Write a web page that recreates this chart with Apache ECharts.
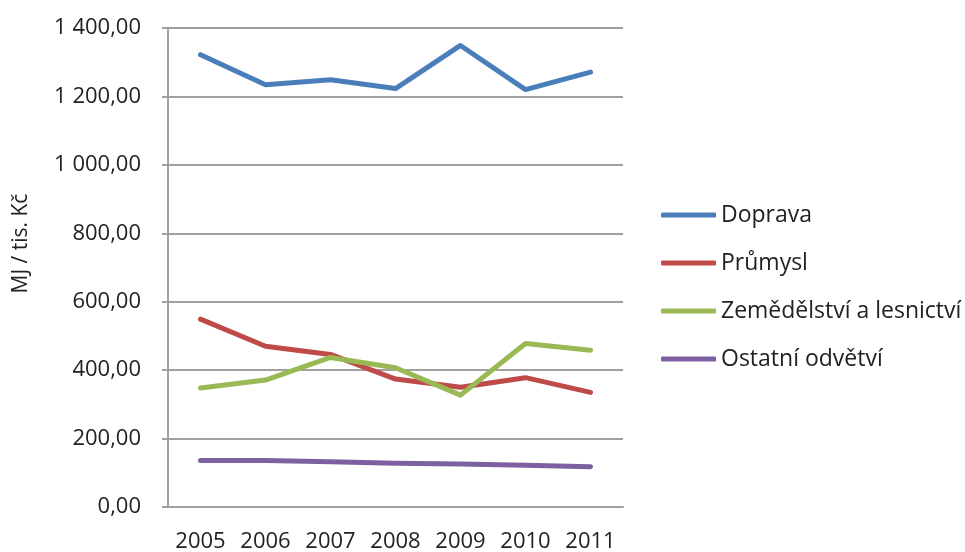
<!DOCTYPE html>
<html>
	<head>
		<meta charset="utf-8">
		<title></title>
		<script src="https://cdn.jsdelivr.net/npm/echarts@6/dist/echarts.min.js"></script>
	</head>
	<body style="margin: 0; overflow: hidden;">
		<div id="main" style="width: 965px; height: 552px;"></div>
		<script type="text/javascript">
			var years = ['2005', '2006', '2007', '2008', '2009', '2010', '2011'];
			var doprava = [1322, 1234, 1249, 1223, 1349, 1220, 1271];
			var prumysl = [549, 470, 446, 374, 350, 378, 335];
			var zemedelstvi = [348, 371, 437, 407, 327, 478, 458];
			var ostatni = [136, 136, 132, 128, 126, 122, 118];

			var myChart = echarts.init(document.getElementById('main'));

			function line(name, data, color) {
				return {
					name: name,
					type: 'line',
					data: data,
					symbol: 'none',
					lineStyle: { width: 5, color: color, cap: 'round', join: 'round' },
					itemStyle: { color: color },
					animation: false
				};
			}

			var option = {
				textStyle: { fontFamily: 'Open Sans' },
				grid: { left: 168, right: 342, top: 28, bottom: 45, outerBoundsMode: 'none' },
				legend: {
					orient: 'vertical',
					left: 656,
					top: 198,
					icon: 'roundRect',
					itemWidth: 55,
					itemHeight: 5,
					itemGap: 24,
					textStyle: { fontSize: 23, lineHeight: 24, color: '#222' },
					data: ['Doprava', 'Průmysl', 'Zemědělství a lesnictví', 'Ostatní odvětví']
				},
				xAxis: {
					type: 'category',
					data: years,
					boundaryGap: true,
					axisLine: { lineStyle: { color: '#a0a0a0', width: 2 } },
					axisTick: { length: 6, lineStyle: { color: '#a0a0a0', width: 2 } },
					axisLabel: { fontSize: 22, color: '#222', margin: 24, interval: 0 }
				},
				yAxis: {
					type: 'value',
					min: 0,
					max: 1400,
					interval: 200,
					name: 'MJ / tis. Kč',
					nameLocation: 'middle',
					nameGap: 136,
					nameTextStyle: { fontSize: 21, color: '#222', padding: [0, 0, 0, 48] },
					axisLine: { show: true, lineStyle: { color: '#a0a0a0', width: 2 } },
					axisTick: { show: true, length: 6, lineStyle: { color: '#a0a0a0', width: 2 } },
					splitLine: { lineStyle: { color: '#a0a0a0', width: 2 } },
					axisLabel: {
						fontSize: 22,
						color: '#222',
						margin: 27,
						formatter: function (v) {
							var s = v.toFixed(2).replace('.', ',');
							var parts = s.split(',');
							parts[0] = parts[0].replace(/\B(?=(\d{3})+(?!\d))/g, ' ');
							return parts.join(',');
						}
					}
				},
				series: [
					line('Doprava', doprava, '#4a7ebb'),
					line('Průmysl', prumysl, '#be4b48'),
					line('Zemědělství a lesnictví', zemedelstvi, '#98b954'),
					line('Ostatní odvětví', ostatni, '#7d60a0')
				]
			};
			myChart.setOption(option);
		</script>
	</body>
</html>
